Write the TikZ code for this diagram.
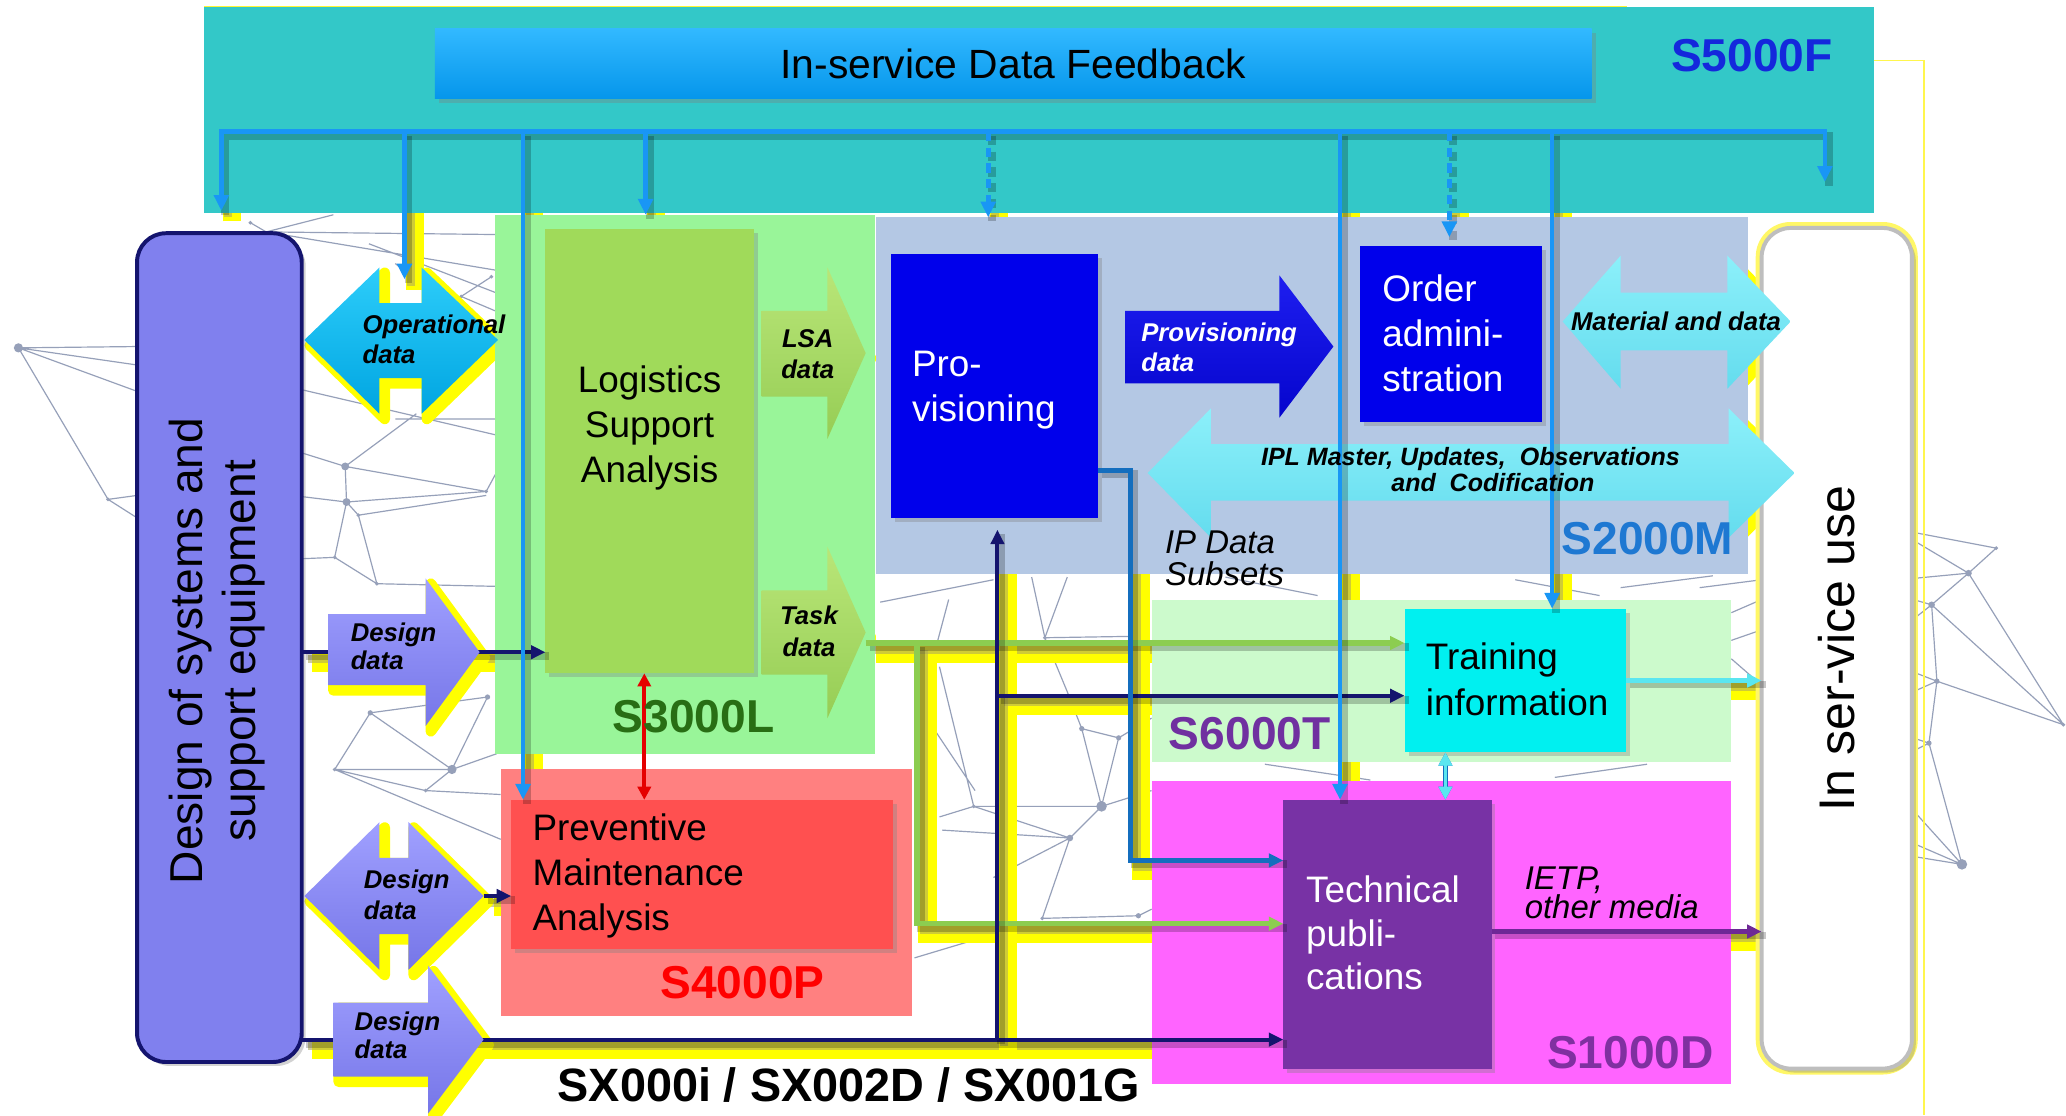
\documentclass[tikz,border=0pt]{standalone}
\usepackage{fontspec}
\setmainfont{Liberation Sans}
\usetikzlibrary{arrows.meta,shadows,calc}
\pgfdeclarelayer{bg}
\pgfdeclarelayer{glow}
\pgfdeclarelayer{areas}
\pgfsetlayers{bg,glow,areas,main}

\definecolor{cTeal}{RGB}{51,200,200}
\definecolor{cFb}{RGB}{25,150,245}
\definecolor{cDesign}{RGB}{128,128,238}
\definecolor{cNavy}{RGB}{20,20,110}
\definecolor{cS3}{RGB}{153,245,153}
\definecolor{cLsa}{RGB}{160,218,90}
\definecolor{cS2}{RGB}{180,200,228}
\definecolor{cProv}{RGB}{0,0,235}
\definecolor{cS6}{RGB}{204,250,204}
\definecolor{cTrain}{RGB}{0,240,240}
\definecolor{cS1}{RGB}{255,100,255}
\definecolor{cTp}{RGB}{120,50,165}
\definecolor{cS4}{RGB}{255,128,128}
\definecolor{cPma}{RGB}{255,80,80}
\definecolor{cGreen}{RGB}{140,205,80}
\definecolor{cSteel}{RGB}{20,110,190}
\definecolor{cPurLine}{RGB}{110,40,150}
\definecolor{cCyanLine}{RGB}{90,230,240}
\definecolor{cNet}{RGB}{150,160,185}
\definecolor{cGlow}{RGB}{255,255,0}
\definecolor{cGlowCore}{RGB}{175,170,90}
\definecolor{tS5}{RGB}{20,40,220}
\definecolor{tS3}{RGB}{40,110,20}
\definecolor{tS2}{RGB}{30,120,210}
\definecolor{tS6}{RGB}{112,48,160}
\definecolor{tS1}{RGB}{128,48,160}
\definecolor{tS4}{RGB}{255,0,0}

% connector with yellow glow (under the areas), soft shadow and the line itself
\newcommand\conn[2]{%
  \begin{pgfonlayer}{glow}
    \draw[draw=cGlow,line width=14pt,transform canvas={shift={(8pt,-8pt)}}] #2;
    \draw[draw=cGlowCore,line width=6pt,opacity=.6,transform canvas={shift={(5pt,-5pt)}}] #2;
  \end{pgfonlayer}
  \draw[#1,draw=black,opacity=.22,line width=6pt,-,transform canvas={shift={(3pt,-3pt)}}] #2;
  \draw[#1] #2;}
% block arrow with yellow glow
\newcommand\barrow[2]{%
  \begin{pgfonlayer}{glow}
    \filldraw[cGlow,line width=8pt,line join=round,transform canvas={shift={(4pt,-4pt)}}] #2;
  \end{pgfonlayer}
  \path[#1] #2;}

\begin{document}
\begin{tikzpicture}[x=1pt,y=-1pt,
  area/.style={inner sep=0pt,outer sep=0pt,anchor=north west},
  box/.style={inner sep=0pt,outer sep=0pt,anchor=north west,
    drop shadow={shadow xshift=3pt,shadow yshift=-3pt,opacity=.35}},
  net/.style={draw=cNet,line width=0.9pt},
  tipA/.style={-{Triangle[length=11pt,width=10pt]}},
  tipB/.style={{Triangle[length=10pt,width=10pt]}-{Triangle[length=10pt,width=10pt]}},
  fbl/.style={draw=cFb,line width=3.5pt,-{Triangle[length=12pt,width=11pt]}},
  navyl/.style={draw=cNavy,line width=3pt,tipA},
  greenl/.style={draw=cGreen,line width=4pt,tipA},
  steell/.style={draw=cSteel,line width=3.5pt,tipA},
  purl/.style={draw=cPurLine,line width=3.5pt,tipA},
  cyanl/.style={draw=cCyanLine,line width=4pt,tipA},
  redl/.style={draw=red!90!black,line width=3pt,tipB},
  lbl/.style={font=\fontsize{19.5}{23}\selectfont\bfseries\itshape,inner sep=0pt,align=left,anchor=base west},
  boxtxt/.style={font=\fontsize{28}{34}\selectfont,inner sep=0pt,align=left,anchor=base west},
  stdtxt/.style={font=\fontsize{35}{40}\selectfont\bfseries,inner sep=0pt,anchor=base west},
]

% ---------------- background network
\begin{pgfonlayer}{bg}
\fill[white] (0,0) rectangle (1568,846);
% left edge
\draw[net] (14,264) -- (104,263) (14,264) -- (104,277) (14,264) -- (104,297)
  (14,264) -- (82,379) -- (104,376) (82,379) -- (104,393);
% between design column and S3000L
\draw[net] (190,169) -- (202,176) -- (376,178) (202,176) -- (253,163) (202,176) -- (376,205)
  (280,185) -- (376,222) (350,225) -- (373,210) (350,225) -- (376,236) (300,200) -- (376,262)
  (230,296) -- (376,330) (300,318) -- (376,318) (316,314) -- (262,354)
  (262,354) -- (230,344) (262,354) -- (263,381) (262,354) -- (369,373)
  (263,381) -- (230,377) (263,381) -- (369,373) (263,381) -- (272,391) (272,391) -- (369,376)
  (263,381) -- (254,423) (272,391) -- (286,443) (254,423) -- (286,443) (254,423) -- (230,424)
  (286,443) -- (376,445) (369,373) -- (376,360);
\draw[net] (281,541) -- (370,529) (281,541) -- (343,584) (281,541) -- (254,584)
  (370,529) -- (343,584) (254,584) -- (343,584) (254,584) -- (380,637) (343,584) -- (323,600)
  (323,600) -- (380,603) (343,584) -- (377,572) (254,584) -- (323,600);
% between S4000P and S1000D
\draw[net] (783,438) -- (793,484) (793,484) -- (810,438) (793,484) -- (856,483) (793,484) -- (810,525)
  (668,457) -- (754,440) (713,506) -- (739,612) (821,553) -- (849,560) (821,553) -- (836,612)
  (849,560) -- (836,612) (810,525) -- (821,553) (836,612) -- (739,612) (836,612) -- (812,636)
  (739,612) -- (713,620) (812,636) -- (791,697) (791,697) -- (864,695) (812,636) -- (754,666)
  (715,630) -- (812,636) (694,727) -- (754,709) (739,612) -- (812,636) (849,560) -- (874,545)
  (836,612) -- (874,600) (864,695) -- (874,690) (720,455) -- (700,530) (700,540) -- (740,600)
  (930,438) -- (1000,452) (1150,440) -- (1214,452) (1230,446) -- (1300,437) (1290,446) -- (1337,440)
  (1314,465) -- (1337,455) (1314,486) -- (1337,478) (1314,500) -- (1337,520) (960,580) -- (1040,592)
  (1180,590) -- (1250,580);
% right edge
\draw[net] (1452,404) -- (1515,416) -- (1494,435) (1452,410) -- (1494,435) (1452,439) -- (1494,435)
  (1494,435) -- (1466,459) (1494,435) -- (1566,550) (1452,455) -- (1466,459) (1452,470) -- (1466,459)
  (1466,459) -- (1566,550) (1466,459) -- (1470,517) (1452,510) -- (1470,517) (1452,525) -- (1470,517)
  (1470,517) -- (1566,550) (1470,517) -- (1464,564) (1452,560) -- (1464,564) (1452,570) -- (1464,564)
  (1464,564) -- (1489,656) (1452,615) -- (1489,656) (1452,640) -- (1489,656) (1452,650) -- (1489,656);
\foreach \p/\r in {{(14,264)}/3.5,{(82,379)}/1.5,{(262,354)}/3,{(263,381)}/3,{(272,391)}/1.5,
  {(254,423)}/1.5,{(286,443)}/1.5,{(369,373)}/1.5,{(373,210)}/1.5,{(350,225)}/1.5,{(190,169)}/1.5,
  {(281,541)}/2,{(370,529)}/2,{(343,584)}/3.5,{(254,584)}/1.5,{(323,600)}/1.5,
  {(821,553)}/2,{(849,560)}/2,{(836,612)}/4,{(739,612)}/1.5,{(812,636)}/2.5,{(793,484)}/1.5,
  {(864,695)}/2,{(791,697)}/1.5,{(1515,416)}/1.5,{(1494,435)}/2.5,{(1466,459)}/2.5,{(1470,517)}/2,
  {(1464,564)}/2,{(1566,550)}/1.5,{(1489,656)}/4}
  \fill[cNet] \p circle (\r pt);
\end{pgfonlayer}

% ---------------- specification areas
\begin{pgfonlayer}{areas}
\node[area,fill=cTeal,minimum width=1267pt,minimum height=157pt] (s5000f) at (155,5) {};
\node[area,fill=cS3,minimum width=288pt,minimum height=409pt] (s3000l) at (376,163) {};
\node[area,fill=cS2,minimum width=662pt,minimum height=271pt] (s2000m) at (665,165) {};
\node[area,fill=cS6,minimum width=440pt,minimum height=123pt] (s6000t) at (874,455) {};
\node[area,fill=cS1,minimum width=440pt,minimum height=230pt] (s1000d) at (874,593) {};
\node[area,fill=cS4,minimum width=312pt,minimum height=187pt] (s4000p) at (380,584) {};
\draw[yellow!80!white,line width=1.2pt] (s5000f.north west) -- ($(s5000f.north west)+(1080,0)$);
\coordinate (edgeTop) at (1460,46);
\draw[yellow!70!white,line width=1.2pt] (s5000f.east |- edgeTop) -- (edgeTop) -- (edgeTop |- 0,846);
\end{pgfonlayer}

% ---------------- boxes
\node[box,minimum width=878pt,minimum height=53pt,top color={rgb,255:red,50;green,185;blue,255},
  bottom color={rgb,255:red,5;green,150;blue,235}] (isdf) at (330,22) {};
\node[box,fill=cDesign,draw=cNavy,line width=3pt,rounded corners=22pt,minimum width=125pt,
  minimum height=629pt,drop shadow={opacity=0}] (dsse) at (104,177) {};
\node[box,fill=cLsa,minimum width=158pt,minimum height=337pt] (lsa) at (414,174) {};
\node[box,fill=cProv,minimum width=157pt,minimum height=200pt] (prov) at (676,193) {};
\node[box,fill=cProv,minimum width=138pt,minimum height=133pt] (order) at (1032,187) {};
\node[box,fill=cTrain,minimum width=168pt,minimum height=109pt] (train) at (1066,462) {};
\node[box,fill=cTp,minimum width=158pt,minimum height=204pt] (tp) at (974,607) {};
\node[box,fill=cPma,minimum width=290pt,minimum height=113pt] (pma) at (388,607) {};
\draw[yellow!60!white,line width=5pt,rounded corners=24pt] (1335,171) rectangle (1453,813);
\node[box,fill=white,draw={rgb,255:red,190;green,190;blue,190},line width=3pt,rounded corners=22pt,
  minimum width=114pt,minimum height=638pt,drop shadow={opacity=0}] (insvc) at (1337,173) {};

% ---------------- design data and task data lines (below the block arrows)
\coordinate (dd1tip) at (364,495);
\coordinate (dd2tip) at (367,680);
\coordinate (dd3tip) at (367,789);
\coordinate (tdOut) at (657,488);
\coordinate (gj) at (696,488);
\coordinate (jn) at (757,789);
\coordinate (jn2) at (757,528);
\coordinate (pvo) at ($(prov.east)+(0,64)$);
\conn{greenl}{(tdOut) -- (train.west |- tdOut)}
\conn{greenl}{(gj) |- ($(tp.west)+(0,-8)$)}
\conn{navyl}{(dsse.east |- dd1tip) -- (lsa.west |- dd1tip)}
\conn{navyl}{(dd2tip) -- (pma.west |- dd2tip)}
\conn{navyl}{(dsse.east |- dd3tip) -- (tp.west |- dd3tip)}
\conn{navyl,shorten >=9pt}{(jn) -- (jn |- prov.south)}
\conn{navyl}{(jn2) -- (train.west |- jn2)}
\conn{steell}{(pvo) -- ++(25,0) |- ($(tp.west)+(0,-56)$)}

% ---------------- block arrows
% Operational data
\barrow{top color={rgb,255:red,45;green,205;blue,250},bottom color={rgb,255:red,0;green,165;blue,225}}
  {(231,258) -- (288,203) -- (288,230) -- (320,230) -- (320,203) -- (378,258) -- (320,314) -- (320,287) -- (288,287) -- (288,314) -- cycle}
% Design data (three)
\barrow{top color={rgb,255:red,160;green,160;blue,255},bottom color={rgb,255:red,118;green,118;blue,232}}
  {(249,466) -- (323,466) -- (323,439) -- (364,495) -- (323,551) -- (323,520) -- (249,520) -- cycle}
\barrow{top color={rgb,255:red,160;green,160;blue,255},bottom color={rgb,255:red,118;green,118;blue,232}}
  {(231,680) -- (288,624) -- (288,651) -- (310,651) -- (310,624) -- (367,680) -- (310,736) -- (310,709) -- (288,709) -- (288,736) -- cycle}
\barrow{top color={rgb,255:red,160;green,160;blue,255},bottom color={rgb,255:red,118;green,118;blue,232}}
  {(253,761) -- (325,761) -- (325,733) -- (367,789) -- (325,845) -- (325,817) -- (253,817) -- cycle}
% LSA data, Task data
\barrow{top color={rgb,255:red,185;green,230;blue,120},bottom color={rgb,255:red,150;green,205;blue,85}}
  {(578,236) -- (628,236) -- (628,203) -- (657,268) -- (628,333) -- (628,301) -- (578,301) -- cycle}
\barrow{top color={rgb,255:red,185;green,230;blue,120},bottom color={rgb,255:red,150;green,205;blue,85}}
  {(578,448) -- (628,448) -- (628,415) -- (657,480) -- (628,545) -- (628,512) -- (578,512) -- cycle}
% Provisioning data
\barrow{top color={rgb,255:red,30;green,30;blue,240},bottom color={rgb,255:red,5;green,5;blue,205}}
  {(854,236) -- (971,236) -- (971,209) -- (1012,263) -- (971,317) -- (971,291) -- (854,291) -- cycle}
% Material and data
\barrow{top color={rgb,255:red,140;green,240;blue,250},bottom color={rgb,255:red,100;green,220;blue,238}}
  {(1186,244) -- (1230,194) -- (1230,222) -- (1311,222) -- (1311,194) -- (1359,244) -- (1311,295) -- (1311,266) -- (1230,266) -- (1230,295) -- cycle}
% IPL Master ...
\barrow{top color={rgb,255:red,140;green,240;blue,250},bottom color={rgb,255:red,100;green,220;blue,238}}
  {(871,359) -- (919,310) -- (919,337) -- (1312,337) -- (1312,310) -- (1362,359) -- (1312,408) -- (1312,380) -- (919,380) -- (919,408) -- cycle}

% ---------------- in-service data feedback distribution
\coordinate (bus) at (760,100);
\coordinate (fbA) at (168,160);
\coordinate (fbZ) at (1385,138);
\coordinate (opdIn) at (307,212);
\coordinate (pmaIn) at ($(pma.north west)+(9,0)$);
\coordinate (s3In) at ($(s3000l.north west)+(114,0)$);
\coordinate (s2In) at ($(s2000m.north west)+(85,0)$);
\coordinate (tpIn) at ($(tp.north west)+(43,0)$);
\coordinate (orIn) at ($(order.north west)+(68,0)$);
\coordinate (trIn) at ($(train.north west)+(112,0)$);
\conn{fbl,{Triangle[length=12pt,width=11pt]}-{Triangle[length=12pt,width=11pt]}}{(fbA) -- (fbA |- bus) -- (fbZ |- bus) -- (fbZ)}
\conn{fbl}{(bus -| opdIn) -- (opdIn)}
\conn{fbl}{(bus -| pmaIn) -- (pmaIn)}
\conn{fbl}{(bus -| s3In) -- (s3In)}
\conn{fbl,dash pattern=on 7pt off 5pt}{(bus -| s2In) -- (s2In)}
\conn{fbl}{(bus -| tpIn) -- (tpIn)}
\conn{fbl,dash pattern=on 7pt off 5pt,shorten >=7pt}{(bus -| orIn) -- (orIn)}
\conn{fbl}{(bus -| trIn) -- (trIn)}

% ---------------- outputs to in-service use and internal links
\coordinate (ctr) at ($(train.south west)+(31,0)$);
\coordinate (rd) at ($(lsa.south west)+(75,0)$);
\conn{cyanl}{(train.east) -- (insvc.west |- train.east)}
\conn{purl}{($(tp.east)+(0,-2)$) -- (insvc.west |- 0,707)}
\draw[draw=cSteel,line width=4pt,tipB] (ctr) -- (ctr |- tp.north);
\draw[draw=cCyanLine,line width=2.5pt,tipB] (ctr) -- (ctr |- tp.north);
\draw[redl] (rd) -- (rd |- pma.north);

% ---------------- texts (multi-line texts are placed by the baseline of their last line)
\node[inner sep=0pt,font=\fontsize{31}{36}\selectfont] (isdfT) at (isdf.center) {In-service Data Feedback};
\node[stdtxt,text=tS5] (s5T) at (1268,54) {S5000F};
\node[stdtxt,text=tS3] (s3T) at (465,556) {S3000L};
\node[stdtxt,text=tS2] (s2T) at (1185,421) {S2000M};
\node[stdtxt,text=tS6] (s6T) at (887,569) {S6000T};
\node[stdtxt,text=tS1] (s1T) at (1174,811) {S1000D};
\node[stdtxt,text=tS4] (s4T) at (501,758) {S4000P};
\node[inner sep=0pt,anchor=base west,font=\fontsize{35.5}{40}\selectfont\bfseries] (sxT) at (423,836) {SX000i / SX002D / SX001G};

\node[rotate=90,align=center,inner sep=0pt,font=\fontsize{35}{40}\selectfont] (dsseT) at (165,494) {Design of systems and\\support equipment};
\node[rotate=90,inner sep=0pt,font=\fontsize{38}{44}\selectfont] (insvcT) at (1394,492) {In ser-vice use};

\node[boxtxt,align=center,anchor=base] (lsaT) at (493,366) {Logistics\\Support\\Analysis};
\node[boxtxt,text=white] (provT) at (692,320) {Pro-\\visioning};
\node[boxtxt,text=white] (orderT) at (1049,297) {Order\\admini-\\stration};
\node[boxtxt,font=\fontsize{28}{35}\selectfont] (trainT) at (1082,543) {Training\\information};
\node[boxtxt,text=white,font=\fontsize{28}{33}\selectfont] (tpT) at (991,751) {Technical\\publi-\\cations};
\node[boxtxt] (pmaT) at (404,706) {Preventive\\Maintenance\\Analysis};

\node[lbl] (opdT) at (275,276) {Operational\\data};
\node[lbl,font=\fontsize{19.5}{21}\selectfont\bfseries\itshape] (dd1T) at (266,508) {Design\\data};
\node[lbl,font=\fontsize{19.5}{24}\selectfont\bfseries\itshape] (dd2T) at (276,698) {Design\\data};
\node[lbl,font=\fontsize{19.5}{21}\selectfont\bfseries\itshape] (dd3T) at (269,803) {Design\\data};
\node[lbl,align=center,anchor=base] (lsadT) at (613,287) {LSA\\data};
\node[lbl,align=center,anchor=base,font=\fontsize{19.5}{24}\selectfont\bfseries\itshape] (taskT) at (614,498) {Task\\data};
\node[lbl,text=white] (pvdT) at (866,282) {Provisioning\\data};
\node[lbl,anchor=base] (matT) at (1272,251) {Material and data};
\node[lbl,anchor=base,font=\fontsize{19}{20}\selectfont\bfseries\itshape] (iplT1) at (1116,353) {IPL Master, Updates,\ \ Observations};
\node[lbl,anchor=base,font=\fontsize{19}{20}\selectfont\bfseries\itshape] (iplT2) at (1133,373) {and\ \ Codification};
\node[lbl,font=\fontsize{25}{24}\selectfont\itshape] (ipdT) at (884,444) {IP Data\\Subsets};
\node[lbl,font=\fontsize{25}{22}\selectfont\itshape] (ietpT) at (1157,697) {IETP,\\other media};

\useasboundingbox (0,0) rectangle (1568,846);
\end{tikzpicture}
\end{document}
